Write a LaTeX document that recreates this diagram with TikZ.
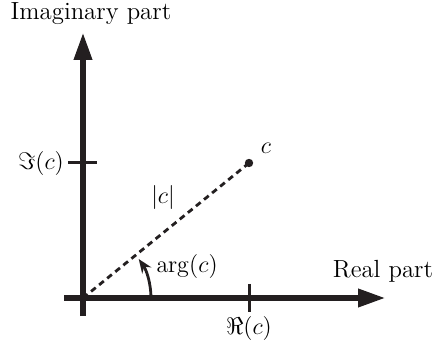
\documentclass[tikz,border=0pt]{standalone}
\usetikzlibrary{arrows.meta}
\definecolor{ink}{HTML}{231F20}
\begin{document}
\begin{tikzpicture}[x=0.5pt,y=-0.5pt,color=ink,
  axis/.style={line width=3.2pt,-{Triangle[length=14pt,width=8.5pt]}},
  tickline/.style={line width=1.5pt},
  lbl/.style={inner sep=0pt,text=black,font=\fontsize{12.4}{14}\selectfont},
  radiusline/.style={line width=1.4pt,dash pattern=on 3pt off 2.2pt},
  anglearrow/.style={line width=1.4pt,-{Stealth[length=7pt,width=5.5pt]}}]
\useasboundingbox (0,0) rectangle (432,346);
\coordinate (O) at (83,298);
\coordinate (xs) at (64,298);
\coordinate (xe) at (386,298);
\coordinate (ys) at (83,316);
\coordinate (ye) at (83,32);
\coordinate (c) at (249,163);
\coordinate (rt1) at (249,284);
\coordinate (rt2) at (249,312);
\coordinate (it1) at (68,163);
\coordinate (it2) at (97,163);
\coordinate (a0) at (151,298);
\draw[axis] (xs) -- (xe);
\draw[axis] (ys) -- (ye);
\draw[tickline] (rt1) -- (rt2);
\draw[tickline] (it1) -- (it2);
\draw[radiusline] (O) -- (c);
\fill (c) circle[radius=2.1pt];
\draw[anglearrow] (a0) arc[start angle=0,end angle=-35,radius=68];
\node[lbl] (imlab) at (91,14) {Imaginary part};
\node[lbl] (relab) at (383,271) {Real part};
\node[lbl] (re) at (249,328) {$\Re(c)$};
\node[lbl] (im) at (41,164) {$\Im(c)$};
\node[lbl] (clab) at (266,148) {$c$};
\node[lbl] (abs) at (163,198) {$|c|$};
\node[lbl] (arg) at (187,266) {$\arg(c)$};
\end{tikzpicture}
\end{document}
